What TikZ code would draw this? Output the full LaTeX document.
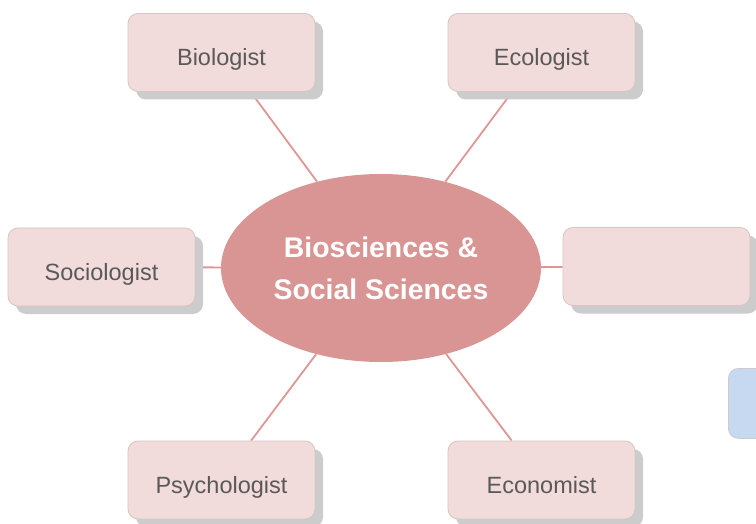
\documentclass[tikz,border=0pt]{standalone}
\usepackage{fontspec}
\setmainfont{Liberation Sans}
\usetikzlibrary{shadows,backgrounds,shapes.geometric}
\definecolor{boxfill}{HTML}{F2DCDB}
\definecolor{boxline}{HTML}{D8C4C4}
\definecolor{ellfill}{HTML}{D99594}
\definecolor{conn}{HTML}{DE9795}
\definecolor{txt}{HTML}{595959}
\definecolor{shade}{HTML}{CCCCCC}
\definecolor{bluefill}{HTML}{C6D9F1}
\tikzset{
  rolebox/.style={rectangle, rounded corners=10pt, draw=boxline, line width=0.8pt, fill=boxfill,
    minimum width=187pt, minimum height=78pt, text=txt, inner sep=0pt,
    text height=27pt, text depth=0pt,
    font=\fontsize{23.5}{28}\selectfont,
    general shadow={shadow xshift=8pt, shadow yshift=-8pt, fill=shade, draw=none}},
  hub/.style={ellipse, fill=ellfill, draw=none, minimum width=320pt, minimum height=188pt,
    text=white, align=center, inner sep=0pt, font=\fontsize{28.4}{42}\selectfont\bfseries},
  link/.style={draw=conn, line width=1.8pt}
}
\begin{document}
\begin{tikzpicture}[x=1pt,y=-1pt]
\useasboundingbox (0,0) rectangle (756,524);
\node[hub] (hub) at (381,268) {Biosciences \&\\Social Sciences};
\node[rolebox] (bio) at (221.5,52.5) {Biologist};
\node[rolebox] (eco) at (541.5,52.5) {Ecologist};
\node[rolebox] (soc) at (101.5,267) {Sociologist};
\node[rolebox] (emp) at (656.5,266.5) {};
\node[rolebox] (psy) at (221.5,480) {Psychologist};
\node[rolebox] (ecn) at (541.5,480) {Economist};
\node[rectangle, rounded corners=10pt, draw=shade, line width=0.8pt, fill=bluefill,
  minimum width=187pt, minimum height=70pt, anchor=north west] (blue) at (728,368) {};
\begin{scope}[on background layer]
\draw[link] (hub) -- (bio);
\draw[link] (hub) -- (eco);
\draw[link] (hub) -- (soc);
\draw[link] (hub) -- (emp);
\draw[link] (hub) -- (psy);
\draw[link] (hub) -- (ecn);
\end{scope}
\end{tikzpicture}
\end{document}
